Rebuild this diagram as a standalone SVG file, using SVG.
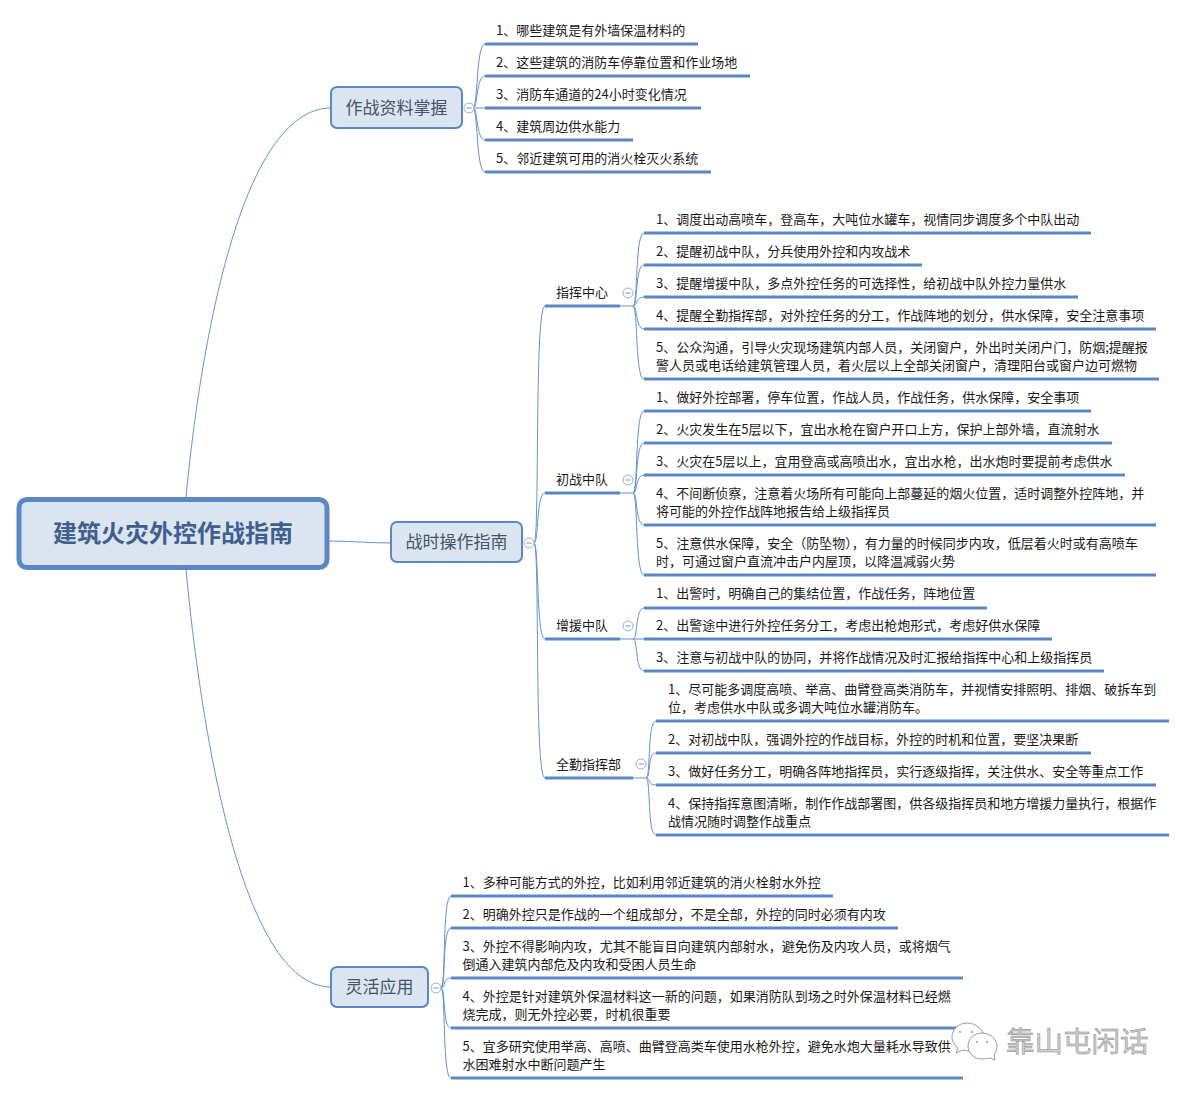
<svg xmlns="http://www.w3.org/2000/svg" width="1187" height="1095" viewBox="0 0 1187 1095">
<style>
text{font-family:"Noto Sans CJK SC","Noto Sans",sans-serif;fill:#1a1a1a}
.t{font-size:13px}
.b{font-size:17px;fill:#44546a;text-anchor:middle}
.r{font-size:24px;font-weight:700;fill:#3f5f8f;text-anchor:middle}
.u{stroke:#5b87c4;stroke-width:3;fill:none}
.c{stroke:#6592d2;stroke-width:1;fill:none}
.n{fill:#dbe5f1;stroke:#5b87c4;stroke-width:2}
.m{fill:#fff;stroke:#9fb0c8;stroke-width:1}
.w{fill:#fff;stroke:#9a9a9a;stroke-width:1}
.wm{font-size:28.5px;fill:#d0d0d0;stroke:#858585;stroke-width:.5}
</style>
<rect width="1187" height="1095" fill="#fff"/>
<g id="connectors">
<path class="c" d="M186 497C200 350 240 108 331 108"/>
<path class="c" d="M186 569C200 720 240 987 331 987"/>
<path class="c" d="M329 541C350 541 370 543 391 543"/>
<path class="c" d="M534 543C540 543 534 306 545 306M534 543C539 543 536 493 545 493M534 543C539 543 536 639 545 639M534 543C540 543 534 778 545 778"/>
<path class="c" d="M473 108C478 108 476 44 485 44M473 108C478 108 476 76 485 76M473 108H485M473 108C478 108 476 140 485 140M473 108C478 108 476 172 485 172"/>
<path class="c" d="M620 306H633M633 306C638 306 635 233 644 233M633 306C638 306 635 265 644 265M633 306C638 306 635 297 644 297M633 306C638 306 635 329 644 329M633 306C638 306 635 379 644 379"/>
<path class="c" d="M620 493H633M633 493C638 493 635 411 644 411M633 493C638 493 635 443 644 443M633 493C638 493 635 475 644 475M633 493C638 493 635 525 644 525M633 493C638 493 635 575 644 575"/>
<path class="c" d="M620 639H644M633 639C638 639 635 608 644 608M633 639C638 639 635 671 644 671"/>
<path class="c" d="M633 778H646M646 778C651 778 647 721 656 721M646 778C651 778 647 753 656 753M646 778C651 778 647 785 656 785M646 778C651 778 647 835 656 835"/>
<path class="c" d="M441 988C446 988 442 896 451 896M441 988C446 988 442 928 451 928M441 988C446 988 442 978 451 978M441 988C446 988 442 1028 451 1028M441 988C446 988 442 1078 451 1078"/>
</g>
<g id="root"><rect x="19" y="499.500" width="308" height="68" rx="8" fill="#dbe5f1" stroke="#5b87c4" stroke-width="5"/><text class="r" x="173" y="542">建筑火灾外控作战指南</text></g>
<g id="b1"><rect class="n" x="331" y="87" width="131" height="41" rx="6"/><text class="b" x="396.500" y="113.500">作战资料掌握</text><circle class="m" cx="469" cy="108" r="5"/><path class="c" d="M466.500 108H471.500"/></g>
<g id="b2"><rect class="n" x="391" y="522" width="131" height="40" rx="6"/><text class="b" x="456.500" y="547.500">战时操作指南</text><circle class="m" cx="529" cy="543" r="5"/><path class="c" d="M526.500 543H531.500"/></g>
<g id="b3"><rect class="n" x="331" y="967" width="97" height="40" rx="6"/><text class="b" x="379.500" y="992.500">灵活应用</text><circle class="m" cx="436" cy="988" r="5"/><path class="c" d="M433.500 988H438.500"/></g>
<g id="s1"><path class="u" d="M545 306H620"/><text class="t" x="556" y="297">指挥中心</text><circle class="m" cx="628" cy="293" r="5"/><path class="c" d="M625.500 293H630.500"/></g>
<g id="s2"><path class="u" d="M545 493H620"/><text class="t" x="556" y="484">初战中队</text><circle class="m" cx="628" cy="480" r="5"/><path class="c" d="M625.500 480H630.500"/></g>
<g id="s3"><path class="u" d="M545 639H620"/><text class="t" x="556" y="630">增援中队</text><circle class="m" cx="628" cy="626" r="5"/><path class="c" d="M625.500 626H630.500"/></g>
<g id="s4"><path class="u" d="M545 778H633"/><text class="t" x="556" y="769">全勤指挥部</text><circle class="m" cx="641" cy="764" r="5"/><path class="c" d="M638.500 764H643.500"/></g>
<g id="a1"><path class="u" d="M485 44H698"/><text class="t" x="496" y="35">1、哪些建筑是有外墙保温材料的</text></g>
<g id="a2"><path class="u" d="M485 76H750"/><text class="t" x="496" y="67">2、这些建筑的消防车停靠位置和作业场地</text></g>
<g id="a3"><path class="u" d="M485 108H701"/><text class="t" x="496" y="99">3、消防车通道的24小时变化情况</text></g>
<g id="a4"><path class="u" d="M485 140H633"/><text class="t" x="496" y="131">4、建筑周边供水能力</text></g>
<g id="a5"><path class="u" d="M485 172H711"/><text class="t" x="496" y="163">5、邻近建筑可用的消火栓灭火系统</text></g>
<g id="c1"><path class="u" d="M644 233H1091"/><text class="t" x="656" y="224">1、调度出动高喷车，登高车，大吨位水罐车，视情同步调度多个中队出动</text></g>
<g id="c2"><path class="u" d="M644 265H922"/><text class="t" x="656" y="256">2、提醒初战中队，分兵使用外控和内攻战术</text></g>
<g id="c3"><path class="u" d="M644 297H1078"/><text class="t" x="656" y="288">3、提醒增援中队，多点外控任务的可选择性，给初战中队外控力量供水</text></g>
<g id="c4"><path class="u" d="M644 329H1156"/><text class="t" x="656" y="320">4、提醒全勤指挥部，对外控任务的分工，作战阵地的划分，供水保障，安全注意事项</text></g>
<g id="c5"><path class="u" d="M644 379H1159"/><text class="t" x="656" y="352">5、公众沟通，引导火灾现场建筑内部人员，关闭窗户，外出时关闭户门，防烟;提醒报</text><text class="t" x="656" y="370">警人员或电话给建筑管理人员，着火层以上全部关闭窗户，清理阳台或窗户边可燃物</text></g>
<g id="d1"><path class="u" d="M644 411H1091"/><text class="t" x="656" y="402">1、做好外控部署，停车位置，作战人员，作战任务，供水保障，安全事项</text></g>
<g id="d2"><path class="u" d="M644 443H1112"/><text class="t" x="656" y="434">2、火灾发生在5层以下，宜出水枪在窗户开口上方，保护上部外墙，直流射水</text></g>
<g id="d3"><path class="u" d="M644 475H1125"/><text class="t" x="656" y="466">3、火灾在5层以上，宜用登高或高喷出水，宜出水枪，出水炮时要提前考虑供水</text></g>
<g id="d4"><path class="u" d="M644 525H1156"/><text class="t" x="656" y="498">4、不间断侦察，注意着火场所有可能向上部蔓延的烟火位置，适时调整外控阵地，并</text><text class="t" x="656" y="516">将可能的外控作战阵地报告给上级指挥员</text></g>
<g id="d5"><path class="u" d="M644 575H1156"/><text class="t" x="656" y="548">5、注意供水保障，安全（防坠物），有力量的时候同步内攻，低层着火时或有高喷车</text><text class="t" x="656" y="566">时，可通过窗户直流冲击户内屋顶，以降温减弱火势</text></g>
<g id="e1"><path class="u" d="M644 608H987"/><text class="t" x="656" y="598">1、出警时，明确自己的集结位置，作战任务，阵地位置</text></g>
<g id="e2"><path class="u" d="M644 639H1052"/><text class="t" x="656" y="630">2、出警途中进行外控任务分工，考虑出枪炮形式，考虑好供水保障</text></g>
<g id="e3"><path class="u" d="M644 671H1104"/><text class="t" x="656" y="662">3、注意与初战中队的协同，并将作战情况及时汇报给指挥中心和上级指挥员</text></g>
<g id="f1"><path class="u" d="M656 721H1169"/><text class="t" x="668" y="694">1、尽可能多调度高喷、举高、曲臂登高类消防车，并视情安排照明、排烟、破拆车到</text><text class="t" x="668" y="712">位，考虑供水中队或多调大吨位水罐消防车。</text></g>
<g id="f2"><path class="u" d="M656 753H1091"/><text class="t" x="668" y="744">2、对初战中队，强调外控的作战目标，外控的时机和位置，要坚决果断</text></g>
<g id="f3"><path class="u" d="M656 785H1156"/><text class="t" x="668" y="776">3、做好任务分工，明确各阵地指挥员，实行逐级指挥，关注供水、安全等重点工作</text></g>
<g id="f4"><path class="u" d="M656 835H1169"/><text class="t" x="668" y="808">4、保持指挥意图清晰，制作作战部署图，供各级指挥员和地方增援力量执行，根据作</text><text class="t" x="668" y="826">战情况随时调整作战重点</text></g>
<g id="g1"><path class="u" d="M451 896H833"/><text class="t" x="462.500" y="887">1、多种可能方式的外控，比如利用邻近建筑的消火栓射水外控</text></g>
<g id="g2"><path class="u" d="M451 928H898"/><text class="t" x="462.500" y="919">2、明确外控只是作战的一个组成部分，不是全部，外控的同时必须有内攻</text></g>
<g id="g3"><path class="u" d="M451 978H963"/><text class="t" x="462.500" y="951">3、外控不得影响内攻，尤其不能盲目向建筑内部射水，避免伤及内攻人员，或将烟气</text><text class="t" x="462.500" y="969">倒通入建筑内部危及内攻和受困人员生命</text></g>
<g id="g4"><path class="u" d="M451 1028H963"/><text class="t" x="462.500" y="1001">4、外控是针对建筑外保温材料这一新的问题，如果消防队到场之时外保温材料已经燃</text><text class="t" x="462.500" y="1019">烧完成，则无外控必要，时机很重要</text></g>
<g id="g5"><path class="u" d="M451 1078H963"/><text class="t" x="462.500" y="1051">5、宜多研究使用举高、高喷、曲臂登高类车使用水枪外控，避免水炮大量耗水导致供</text><text class="t" x="462.500" y="1069">水困难射水中断问题产生</text></g>
<g id="watermark">
<path class="w" d="M967 1023C958 1023 952 1030 952 1037C952 1042 955 1046 958 1048L956 1053L963 1050C966 1051 969 1051 972 1051C979 1051 984 1044 984 1037C984 1030 976 1023 967 1023Z"/>
<path class="w" d="M982 1033C974 1033 968 1039 968 1046C968 1053 974 1059 982 1059C985 1059 988 1058 990 1058L995 1060L994 1055C996 1052 997 1049 997 1046C997 1039 990 1033 982 1033Z"/>
<circle cx="977" cy="1042" r="1" fill="#999"/><circle cx="987" cy="1042" r="1" fill="#999"/>
<circle cx="960" cy="1032" r="1" fill="#999"/><circle cx="972" cy="1032" r="1" fill="#999"/>
<text class="wm" x="1006" y="1052">靠山屯闲话</text>
</g>
</svg>
